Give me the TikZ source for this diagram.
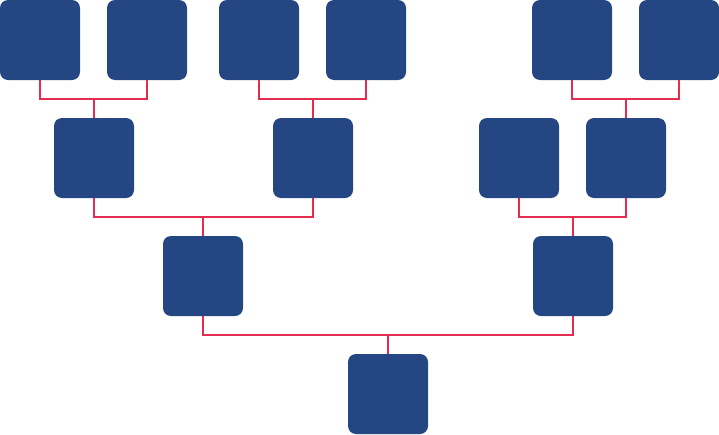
\documentclass[tikz,border=0pt]{standalone}
\usetikzlibrary{calc}
\definecolor{boxblue}{RGB}{36,70,130}
\definecolor{linkred}{RGB}{228,45,78}
\begin{document}
\begin{tikzpicture}[x=1pt,y=-1pt,
  member/.style={rectangle,fill=boxblue,draw=none,minimum size=80pt,inner sep=0pt,rounded corners=8pt},
  link/.style={draw=linkred,line width=2pt}]
\useasboundingbox (0,0) rectangle (719,434);
% row 0
\node[member] (a1) at (40,40) {};
\node[member] (a2) at (147,40) {};
\node[member] (a3) at (259,40) {};
\node[member] (a4) at (366,40) {};
\node[member] (a5) at (572,40) {};
\node[member] (a6) at (679,40) {};
% row 1
\node[member] (b1) at (94,158) {};
\node[member] (b2) at (313,158) {};
\node[member] (b3) at (519,158) {};
\node[member] (b4) at (626,158) {};
% row 2
\node[member] (c1) at (203,276) {};
\node[member] (c2) at (573,276) {};
% row 3
\node[member] (d1) at (388,394) {};
% connectors
\foreach \l/\r/\p in {a1/a2/b1, a3/a4/b2, a5/a6/b4, b1/b2/c1, b3/b4/c2, c1/c2/d1}{
  \coordinate (m) at ($(\p.north)!0.5!(\p.north |- \l.south)$);
  \draw[link] (\l.south) -- (\l.south |- m) -| (\r.south);
  \draw[link] (m) -- (\p.north);
}
\end{tikzpicture}
\end{document}
